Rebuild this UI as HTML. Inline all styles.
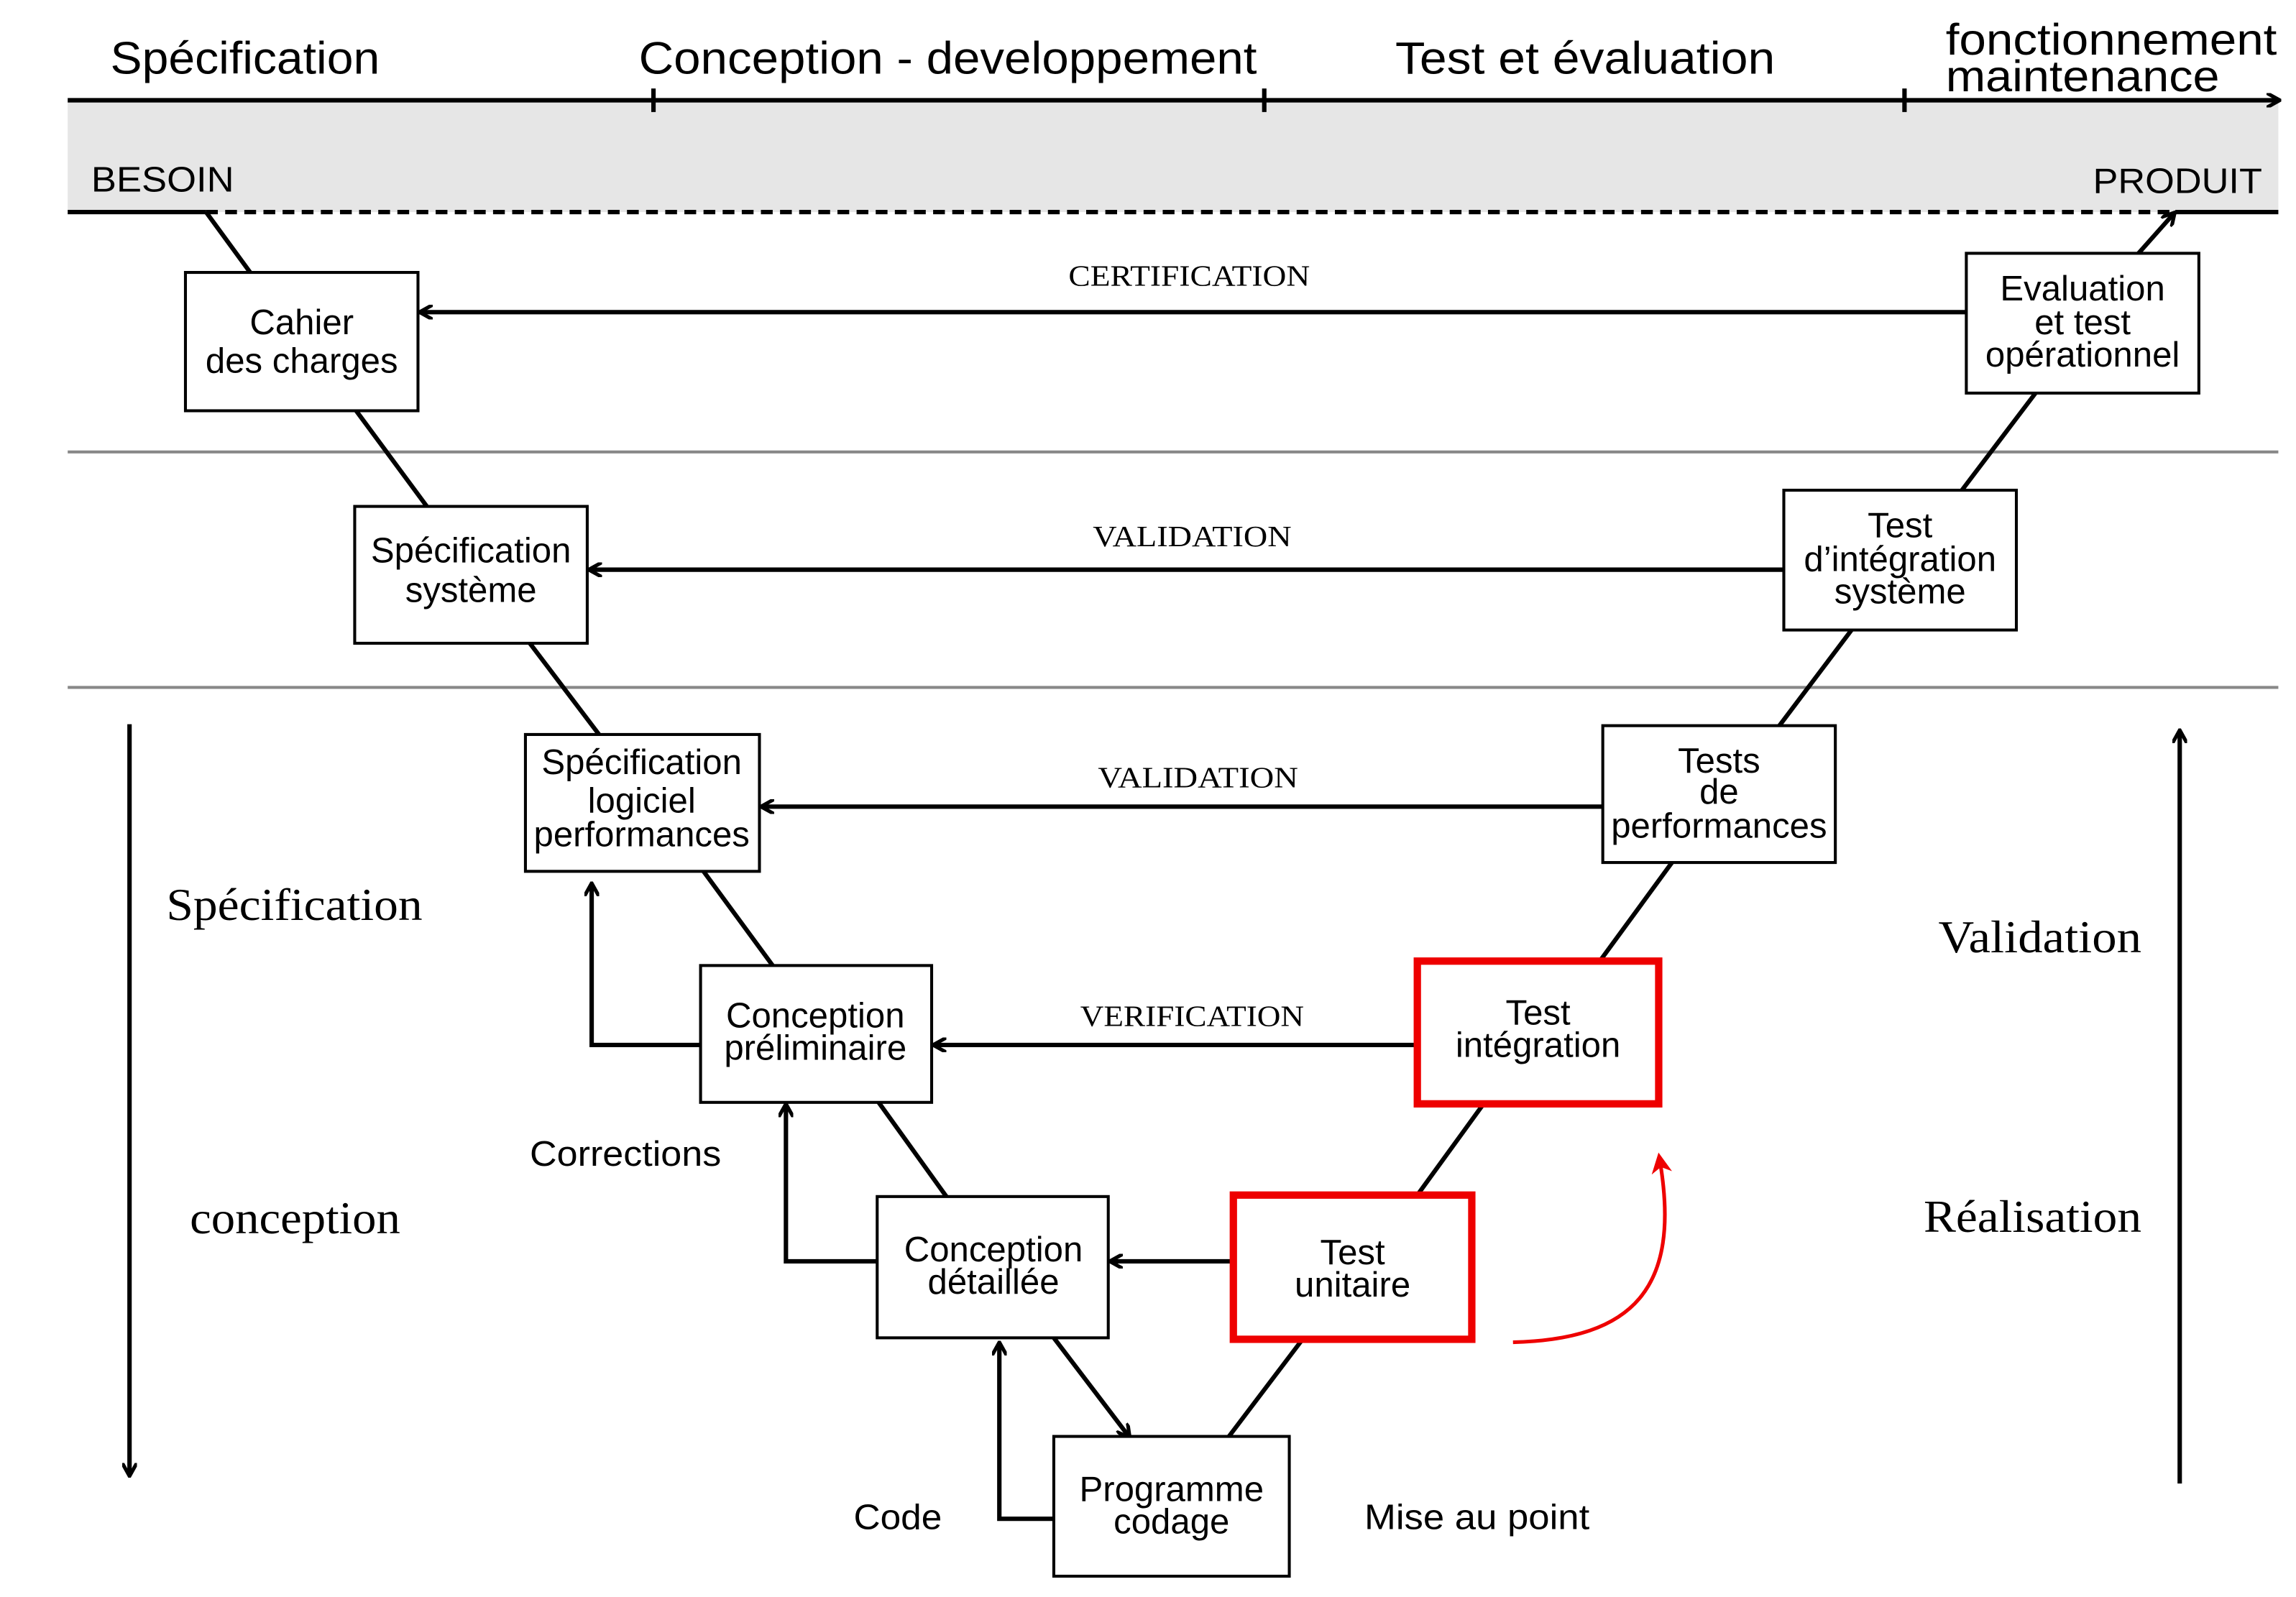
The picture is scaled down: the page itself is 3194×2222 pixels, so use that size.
<!DOCTYPE html>
<html><head><meta charset="utf-8"><style>
html,body{margin:0;padding:0;background:#fff;}
svg{display:block;}
.s{font-family:"Liberation Sans",sans-serif;font-size:24px;fill:#000;}
.r{font-family:"Liberation Serif",serif;fill:#000;}
.b{fill:#fff;stroke:#000;stroke-width:2;}
.rb{fill:#fff;stroke:#e00;stroke-width:5;}
.l{stroke:#000;stroke-width:3;fill:none;}
</style></head><body>
<svg width="3194" height="2222" viewBox="0 0 1560 1085" xmlns="http://www.w3.org/2000/svg">
<defs>
<marker id="a" markerWidth="10" markerHeight="10" refX="8" refY="5" orient="auto" markerUnits="userSpaceOnUse"><path d="M0,0 L9,5 L0,10" fill="none" stroke="#000" stroke-width="2.5"/></marker>
<marker id="ar" markerWidth="14" markerHeight="14" refX="7" refY="7" orient="auto" markerUnits="userSpaceOnUse"><path d="M0,0 L14,7 L0,14 L4,7 Z" fill="#e00"/></marker>
</defs>
<!-- header -->
<text class="s" x="75" y="50" style="font-size:31px" textLength="183" lengthAdjust="spacingAndGlyphs">Spécification</text>
<text class="s" x="434" y="50" style="font-size:31px" textLength="420" lengthAdjust="spacingAndGlyphs">Conception - developpement</text>
<text class="s" x="948" y="50" style="font-size:31px" textLength="258" lengthAdjust="spacingAndGlyphs">Test et évaluation</text>
<text class="s" x="1322" y="37" style="font-size:30px" textLength="225" lengthAdjust="spacingAndGlyphs">fonctionnement</text>
<text class="s" x="1322" y="62" style="font-size:30px" textLength="186" lengthAdjust="spacingAndGlyphs">maintenance</text>
<rect x="46" y="68" width="1502" height="76" fill="#e6e6e6"/>
<line class="l" x1="46" y1="68" x2="1548" y2="68" marker-end="url(#a)"/>
<line class="l" x1="444" y1="60" x2="444" y2="76"/>
<line class="l" x1="859" y1="60" x2="859" y2="76"/>
<line class="l" x1="1294" y1="60" x2="1294" y2="76"/>
<text class="s" x="62" y="130" textLength="97" lengthAdjust="spacingAndGlyphs">BESOIN</text>
<text class="s" x="1422" y="131" textLength="115" lengthAdjust="spacingAndGlyphs">PRODUIT</text>
<line class="l" x1="46" y1="144" x2="140" y2="144"/>
<line x1="140" y1="144" x2="1478" y2="144" stroke="#000" stroke-width="3" stroke-dasharray="8,5"/>
<line class="l" x1="1478" y1="144" x2="1548" y2="144"/>
<line x1="46" y1="307" x2="1548" y2="307" stroke="#888" stroke-width="2"/>
<line x1="46" y1="467" x2="1548" y2="467" stroke="#888" stroke-width="2"/>
<!-- diagonals -->
<g class="l">
<line x1="140" y1="144" x2="170" y2="185"/>
<line x1="242" y1="279" x2="290" y2="344"/>
<line x1="360" y1="437" x2="407" y2="499"/>
<line x1="478" y1="592" x2="525" y2="656"/>
<line x1="597" y1="749" x2="643" y2="813"/>
<line x1="716" y1="909" x2="767" y2="976" marker-end="url(#a)"/>
<line x1="835" y1="976" x2="885" y2="910"/>
<line x1="963" y1="812" x2="1008" y2="750"/>
<line x1="1087" y1="653" x2="1136" y2="586"/>
<line x1="1209" y1="493" x2="1258" y2="428"/>
<line x1="1333" y1="333" x2="1383" y2="267"/>
<line x1="1453" y1="172" x2="1477" y2="145" marker-end="url(#a)"/>
<line x1="1336" y1="212" x2="286" y2="212" marker-end="url(#a)"/>
<line x1="1212" y1="387" x2="401" y2="387" marker-end="url(#a)"/>
<line x1="1089" y1="548" x2="518" y2="548" marker-end="url(#a)"/>
<line x1="963" y1="710" x2="635" y2="710" marker-end="url(#a)"/>
<line x1="838" y1="857" x2="755" y2="857" marker-end="url(#a)"/>
<polyline points="476,710 402,710 402,601" marker-end="url(#a)"/>
<polyline points="596,857 534,857 534,751" marker-end="url(#a)"/>
<polyline points="716,1032 679,1032 679,913" marker-end="url(#a)"/>
<line x1="88" y1="492" x2="88" y2="1002" marker-end="url(#a)"/>
<line x1="1481" y1="1008" x2="1481" y2="497" marker-end="url(#a)"/>
</g>
<text class="r" x="808" y="194" text-anchor="middle" font-size="20" textLength="164" lengthAdjust="spacingAndGlyphs">CERTIFICATION</text>
<text class="r" x="810" y="371" text-anchor="middle" font-size="20" textLength="135" lengthAdjust="spacingAndGlyphs">VALIDATION</text>
<text class="r" x="814" y="535" text-anchor="middle" font-size="20" textLength="136" lengthAdjust="spacingAndGlyphs">VALIDATION</text>
<text class="r" x="810" y="697" text-anchor="middle" font-size="20" textLength="152" lengthAdjust="spacingAndGlyphs">VERIFICATION</text>
<!-- boxes -->
<rect class="b" x="126" y="185" width="158" height="94"/>
<text class="s" x="205" y="227" text-anchor="middle">Cahier</text>
<text class="s" x="205" y="253" text-anchor="middle">des charges</text>
<rect class="b" x="241" y="344" width="158" height="93"/>
<text class="s" x="320" y="382" text-anchor="middle">Spécification</text>
<text class="s" x="320" y="409" text-anchor="middle">système</text>
<rect class="b" x="357" y="499" width="159" height="93"/>
<text class="s" x="436" y="526" text-anchor="middle">Spécification</text>
<text class="s" x="436" y="552" text-anchor="middle">logiciel</text>
<text class="s" x="436" y="575" text-anchor="middle">performances</text>
<rect class="b" x="476" y="656" width="157" height="93"/>
<text class="s" x="554" y="698" text-anchor="middle">Conception</text>
<text class="s" x="554" y="720" text-anchor="middle">préliminaire</text>
<rect class="b" x="596" y="813" width="157" height="96"/>
<text class="s" x="675" y="857" text-anchor="middle">Conception</text>
<text class="s" x="675" y="879" text-anchor="middle">détaillée</text>
<rect class="b" x="716" y="976" width="160" height="95"/>
<text class="s" x="796" y="1020" text-anchor="middle">Programme</text>
<text class="s" x="796" y="1042" text-anchor="middle">codage</text>
<rect class="rb" x="838" y="812" width="162" height="98"/>
<text class="s" x="919" y="859" text-anchor="middle">Test</text>
<text class="s" x="919" y="881" text-anchor="middle">unitaire</text>
<rect class="rb" x="963" y="653" width="164" height="97"/>
<text class="s" x="1045" y="696" text-anchor="middle">Test</text>
<text class="s" x="1045" y="718" text-anchor="middle">intégration</text>
<rect class="b" x="1089" y="493" width="158" height="93"/>
<text class="s" x="1168" y="525" text-anchor="middle">Tests</text>
<text class="s" x="1168" y="546" text-anchor="middle">de</text>
<text class="s" x="1168" y="569" text-anchor="middle">performances</text>
<rect class="b" x="1212" y="333" width="158" height="95"/>
<text class="s" x="1291" y="365" text-anchor="middle">Test</text>
<text class="s" x="1291" y="388" text-anchor="middle">d’intégration</text>
<text class="s" x="1291" y="410" text-anchor="middle">système</text>
<rect class="b" x="1336" y="172" width="158" height="95"/>
<text class="s" x="1415" y="204" text-anchor="middle">Evaluation</text>
<text class="s" x="1415" y="227" text-anchor="middle">et test</text>
<text class="s" x="1415" y="249" text-anchor="middle">opérationnel</text>
<!-- labels -->
<text class="s" x="360" y="792" textLength="130" lengthAdjust="spacingAndGlyphs">Corrections</text>
<text class="s" x="580" y="1039" textLength="60" lengthAdjust="spacingAndGlyphs">Code</text>
<text class="s" x="927" y="1039" textLength="153" lengthAdjust="spacingAndGlyphs">Mise au point</text>
<text class="r" x="113" y="625" font-size="31" textLength="174" lengthAdjust="spacingAndGlyphs">Spécification</text>
<text class="r" x="129" y="838" font-size="31" textLength="143" lengthAdjust="spacingAndGlyphs">conception</text>
<text class="r" x="1317" y="647" font-size="31" textLength="138" lengthAdjust="spacingAndGlyphs">Validation</text>
<text class="r" x="1307" y="837" font-size="31" textLength="148" lengthAdjust="spacingAndGlyphs">Réalisation</text>
<!-- red curve -->
<path d="M1028,912 C1110,910 1142,875 1128,790" fill="none" stroke="#e00" stroke-width="2.5" marker-end="url(#ar)"/>
</svg>
</body></html>
